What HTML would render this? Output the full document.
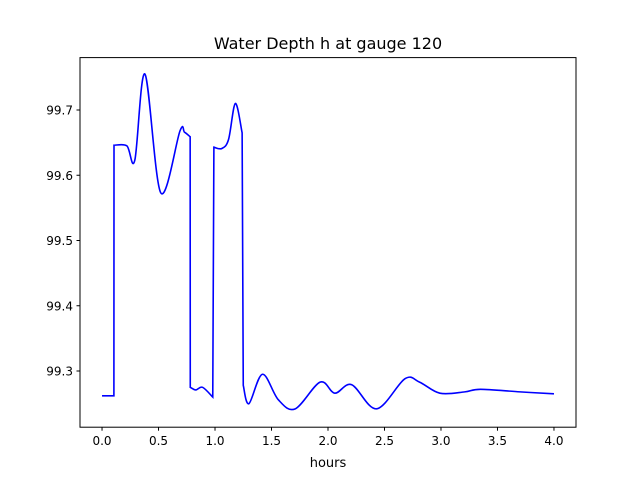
<!DOCTYPE html>
<html><head><meta charset="utf-8"><style>
body{margin:0;background:#fff;font-family:"Liberation Sans","DejaVu Sans",sans-serif}
</style></head><body>
<svg id="c" width="640" height="480" viewBox="0 0 640 480" xmlns="http://www.w3.org/2000/svg">
<rect width="640" height="480" fill="#fff"/>
<text x="328" y="49" font-size="16" text-anchor="middle" font-family="DejaVu Sans, sans-serif">Water Depth h at gauge 120</text>
<text x="328" y="467" font-size="13" text-anchor="middle" font-family="DejaVu Sans, sans-serif">hours</text>
<g id="ticks"></g>
<path id="line" fill="none" stroke="#0000ff" stroke-width="1.6"/>
<rect x="80" y="57.6" width="496" height="369.6" fill="none" stroke="#000" stroke-width="1"/>
</svg>
<script>
const xTicks=[0,0.5,1,1.5,2,2.5,3,3.5,4];
const xTickLabels=["0.0","0.5","1.0","1.5","2.0","2.5","3.0","3.5","4.0"];
const yTicks=[99.3,99.4,99.5,99.6,99.7];
const yTickLabels=["99.3","99.4","99.5","99.6","99.7"];
// segments of continuous data separated by jumps: [hours, depth]
const seg1=[[0,99.262],[0.105,99.262]];
const seg2=[[0.106,99.646],[0.22,99.645],[0.29,99.623],[0.38,99.755],[0.52,99.573],[0.69,99.668],[0.73,99.666],[0.78,99.659]];
const seg3=[[0.781,99.275],[0.83,99.271],[0.89,99.275],[0.98,99.26]];
const seg4=[[0.99,99.643],[1.06,99.641],[1.12,99.655],[1.18,99.71],[1.24,99.665]];
const seg5=[[1.25,99.278],[1.30,99.25],[1.42,99.295],[1.56,99.256],[1.71,99.242],[1.93,99.283],[2.06,99.266],[2.21,99.279],[2.43,99.242],[2.68,99.288],[2.81,99.283],[2.99,99.266],[3.21,99.268],[3.35,99.272],[3.7,99.268],[4.0,99.265]];
const segments=[seg1,seg2,seg3,seg4,seg5];
const X=v=>80+(v+0.195)/4.39*496;
const Y=v=>110-(v-99.7)*652.5;
const g=document.getElementById('ticks');
const NS='http://www.w3.org/2000/svg';
function mk(t,a){const e=document.createElementNS(NS,t);for(const k in a)e.setAttribute(k,a[k]);return e;}
xTicks.forEach((t,i)=>{
 const l=mk('line',{x1:X(t),x2:X(t),y1:427.2,y2:430.7,stroke:'#000'});
 
 
 g.appendChild(l);
 const tx=mk('text',{x:X(t),y:445,'font-size':12,'text-anchor':'middle','font-family':'DejaVu Sans, sans-serif'});
 tx.textContent=xTickLabels[i];
 
 
 g.appendChild(tx);
});
yTicks.forEach((t,i)=>{
 const l=mk('line',{x1:76.5,x2:80,y1:Y(t),y2:Y(t),stroke:'#000'});
 
 
 g.appendChild(l);
 const tx=mk('text',{x:73,y:Y(t)+4.5,'font-size':12,'text-anchor':'end','font-family':'DejaVu Sans, sans-serif'});
 tx.textContent=yTickLabels[i];
 
 
 g.appendChild(tx);
});
let d='';
segments.forEach((s,si)=>{
 const p=s.map(q=>[X(q[0]),Y(q[1])]);
 d+=(si===0?'M':'L')+p[0][0].toFixed(2)+','+p[0][1].toFixed(2);
 for(let i=0;i<p.length-1;i++){
  const p0=p[Math.max(0,i-1)],p1=p[i],p2=p[i+1],p3=p[Math.min(p.length-1,i+2)];
  const c1=[p1[0]+(p2[0]-p0[0])/6,p1[1]+(p2[1]-p0[1])/6];
  const c2=[p2[0]-(p3[0]-p1[0])/6,p2[1]-(p3[1]-p1[1])/6];
  d+='C'+c1.map(v=>v.toFixed(2))+' '+c2.map(v=>v.toFixed(2))+' '+p2.map(v=>v.toFixed(2));
 }
});
document.getElementById('line').setAttribute('d',d);
</script>
</body></html>
